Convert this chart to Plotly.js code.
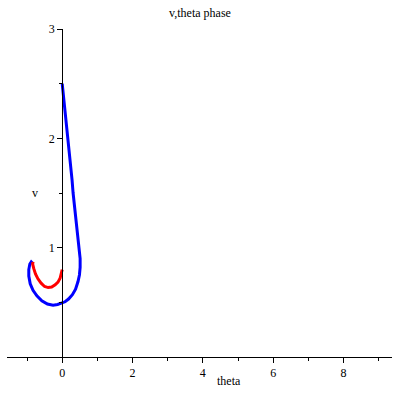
<!DOCTYPE html>
<html>
<head>
<meta charset="utf-8">
<script src="https://cdn.plot.ly/plotly-3.0.1.min.js"></script>
<style>html,body{margin:0;padding:0;background:#fff;}#chart{width:400px;height:400px;}</style>
</head>
<body>
<div id="chart"></div>
<script>
// Blue trajectory (theta, v)
const blueTheta = [0, 0.04, 0.08, 0.13, 0.17, 0.21, 0.24, 0.28, 0.31, 0.35, 0.38, 0.42, 0.46, 0.49, 0.51, 0.51, 0.49, 0.45, 0.38, 0.29, 0.18, 0.08, 0, -0.13, -0.26, -0.42, -0.58, -0.72, -0.83, -0.91, -0.95, -0.95, -0.92, -0.88, -0.85];
const blueV     = [2.5, 2.38, 2.25, 2.12, 2.0, 1.87, 1.75, 1.62, 1.5, 1.37, 1.27, 1.16, 1.06, 0.98, 0.9, 0.82, 0.75, 0.69, 0.62, 0.57, 0.53, 0.505, 0.495, 0.48, 0.474, 0.485, 0.515, 0.56, 0.61, 0.67, 0.74, 0.8, 0.85, 0.87, 0.86];
// Red trajectory (theta, v)
const redTheta = [0, -0.02, -0.06, -0.12, -0.2, -0.3, -0.4, -0.5, -0.6, -0.69, -0.76, -0.81, -0.84, -0.83];
const redV     = [0.8, 0.76, 0.72, 0.685, 0.66, 0.64, 0.635, 0.645, 0.675, 0.715, 0.76, 0.81, 0.85, 0.87];

const xTicks = [0, 2, 4, 6, 8];
const yTicks = [1, 2, 3];

const font = {family: '"Liberation Serif", "DejaVu Serif", serif', size: 12, color: '#000'};

const traces = [
  {x: blueTheta, y: blueV, mode: 'lines', line: {color: '#0000ff', width: 3}, hoverinfo: 'skip'},
  {x: redTheta, y: redV, mode: 'lines', line: {color: '#ff0000', width: 3}, hoverinfo: 'skip'}
];

const xr = [-1.57, 9.38];
const yPos = (0 - xr[0]) / (xr[1] - xr[0]);

const layout = {
  width: 400, height: 400,
  margin: {l: 7, r: 8, t: 29, b: 43, pad: 0},
  paper_bgcolor: '#fff', plot_bgcolor: '#fff',
  showlegend: false,
  font: font,
  title: {text: 'v,theta phase', font: font, x: 0.5, xref: 'container', xanchor: 'center', y: 1 - 13/400, yref: 'container', yanchor: 'middle'},
  xaxis: {
    range: xr, showgrid: false, zeroline: false,
    showline: true, linecolor: '#000', linewidth: 1,
    tickmode: 'array', tickvals: xTicks, ticktext: xTicks.map(String),
    ticks: 'outside', ticklen: 5, tickcolor: '#000', tickwidth: 1,
    minor: {tickmode: 'linear', tick0: -1, dtick: 2, ticks: 'outside', ticklen: 3, tickcolor: '#000', showgrid: false},
    tickfont: font, fixedrange: true
  },
  yaxis: {
    range: [0, 3], showgrid: false, zeroline: false,
    anchor: 'free', position: yPos,
    showline: true, linecolor: '#000', linewidth: 1,
    tickmode: 'array', tickvals: yTicks, ticktext: yTicks.map(String),
    ticks: 'outside', ticklen: 5, tickcolor: '#000', tickwidth: 1,
    minor: {tickmode: 'linear', tick0: 0.5, dtick: 1, ticks: 'outside', ticklen: 3, tickcolor: '#000', showgrid: false},
    tickfont: font, fixedrange: true
  },
  annotations: [
    {text: 'v', xref: 'paper', yref: 'paper', x: (35 - 7) / 385, y: 0.5, showarrow: false, font: font, xanchor: 'center', yanchor: 'middle'},
    {text: 'theta', xref: 'paper', yref: 'paper', x: (229 - 7) / 385, y: (357 - 381) / 328, showarrow: false, font: font, xanchor: 'center', yanchor: 'middle'}
  ]
};

Plotly.newPlot('chart', traces, layout, {staticPlot: true, displayModeBar: false});
</script>
</body>
</html>
